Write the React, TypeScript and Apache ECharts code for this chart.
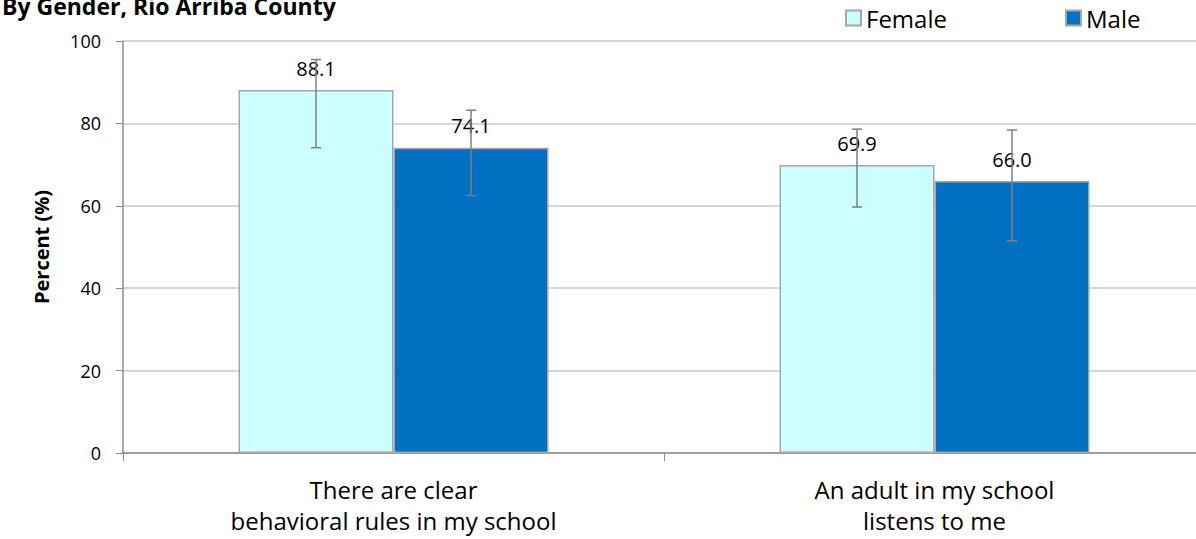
import React, { useEffect, useRef } from "react";
import * as echarts from "echarts";

const categories = ["There are clear\nbehavioral rules in my school", "An adult in my school\nlistens to me"];
const seriesNames = ["Female", "Male"];
const femaleValues = [88.1, 69.9];
const maleValues = [74.1, 66.0];
const femaleLow = [74.1, 59.7];
const femaleHigh = [95.5, 78.6];
const maleLow = [62.5, 51.5];
const maleHigh = [83.2, 78.4];
const yTicks = [0, 20, 40, 60, 80, 100];

const FONT = "'Open Sans', 'Noto Sans', sans-serif";
const BAR_W = 155;

export default function App() {
  const ref = useRef<HTMLDivElement>(null);
  useEffect(() => {
    if (!ref.current) return;
    const chart = echarts.init(ref.current, null, { renderer: "svg" });
    const errData: any[] = [];
    categories.forEach((_, i) => {
      errData.push([i, femaleLow[i], femaleHigh[i], 0]);
      errData.push([i, maleLow[i], maleHigh[i], 1]);
    });
    const labelCfg = {
      show: true,
      position: "top",
      distance: 12,
      fontFamily: FONT,
      fontSize: 20,
      color: "#000",
      formatter: (p: any) => p.value.toFixed(1),
    };
    const option: any = {
      animation: false,
      textStyle: { fontFamily: FONT },
      title: {
        text: "By Gender, Rio Arriba County",
        left: -3,
        top: -11,
        textStyle: { fontFamily: FONT, fontWeight: "bold", fontSize: 23, color: "#000" },
      },
      legend: {
        data: seriesNames,
        left: 840,
        top: 1,
        itemWidth: 15,
        itemHeight: 15,
        itemGap: 118,
        icon: "rect",
        textStyle: { fontFamily: FONT, fontSize: 24, color: "#000" },
      },
      grid: {
        left: 123,
        width: 1082,
        top: 41,
        height: 412,
        containLabel: false,
        outerBoundsMode: "none",
      },
      xAxis: {
        type: "category",
        data: categories,
        axisLine: { lineStyle: { color: "#8c8c8c", width: 1.5 } },
        axisTick: { show: true, length: 8, lineStyle: { color: "#8c8c8c" } },
        axisLabel: {
          fontFamily: FONT,
          fontSize: 24,
          color: "#000",
          lineHeight: 31,
          margin: 21,
          interval: 0,
        },
      },
      yAxis: {
        type: "value",
        min: yTicks[0],
        max: yTicks[yTicks.length - 1],
        interval: 20,
        name: "Percent (%)",
        nameLocation: "middle",
        nameGap: 72,
        nameTextStyle: { fontFamily: FONT, fontSize: 20, fontWeight: "bold", color: "#000" },
        axisLine: { show: true, lineStyle: { color: "#8c8c8c", width: 1.5 } },
        axisTick: { show: true, length: 7, lineStyle: { color: "#8c8c8c" } },
        axisLabel: { fontFamily: FONT, fontSize: 18, color: "#000", margin: 22 },
        splitLine: { lineStyle: { color: "#c8c8c8", width: 1.5 } },
      },
      series: [
        {
          name: seriesNames[0],
          type: "bar",
          data: femaleValues,
          barWidth: BAR_W,
          barGap: "0%",
          itemStyle: { color: "#ccffff", borderColor: "#a6a6a6", borderWidth: 1.5 },
          label: labelCfg,
        },
        {
          name: seriesNames[1],
          type: "bar",
          data: maleValues,
          barWidth: BAR_W,
          barGap: "0%",
          itemStyle: { color: "#0070c0", borderColor: "#a6a6a6", borderWidth: 1.5 },
          label: labelCfg,
        },
        {
          type: "custom",
          name: "err",
          data: errData,
          clip: false,
          z: 10,
          encode: { x: 0, y: [1, 2] },
          renderItem: (params: any, api: any) => {
            const cat = api.value(0);
            const lo = api.coord([cat, api.value(1)]);
            const hi = api.coord([cat, api.value(2)]);
            const s = api.value(3);
            const x = lo[0] + (s === 0 ? -BAR_W / 2 : BAR_W / 2);
            const cap = 5;
            const style = { stroke: "#7f7f7f", lineWidth: 1.5, fill: "none" };
            return {
              type: "group",
              children: [
                { type: "line", shape: { x1: x, y1: lo[1], x2: x, y2: hi[1] }, style },
                { type: "line", shape: { x1: x - cap, y1: lo[1], x2: x + cap, y2: lo[1] }, style },
                { type: "line", shape: { x1: x - cap, y1: hi[1], x2: x + cap, y2: hi[1] }, style },
              ],
            };
          },
        },
      ],
    };
    chart.setOption(option);
    return () => chart.dispose();
  }, []);
  return <div ref={ref} style={{ width: 1196, height: 539, position: "absolute", left: 0, top: 0 }} />;
}
